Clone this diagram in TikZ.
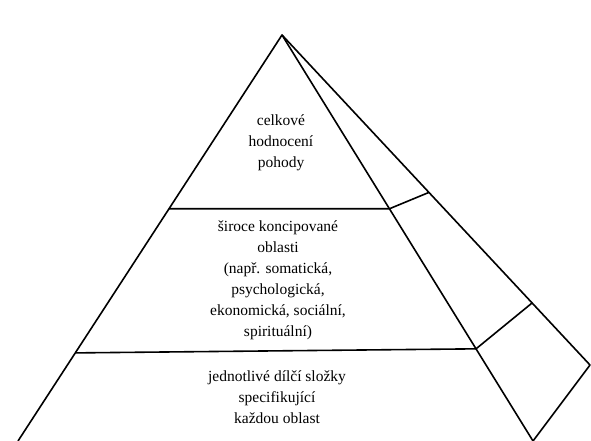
\documentclass[tikz,border=0pt]{standalone}
\usepackage{fontspec}
\setmainfont{Liberation Serif}
\usetikzlibrary{calc}
\tikzset{
  edge/.style = {draw=black, line width=1.6pt, line join=round},
  label_t/.style = {align=center, inner sep=0pt, text centered,
    font=\fontsize{15.5}{21}\selectfont}% text inside the pyramid
}

\begin{document}
\begin{tikzpicture}[x=1pt,y=-1pt]
\useasboundingbox (0,0) rectangle (591,441);
% corners of the pyramid
\coordinate (apex) at (282,35);
\coordinate (lfoot) at (18,441);
\coordinate (ffoot) at (533,441);
\coordinate (bcorner) at (590,365);
% band borders
\coordinate (u_l) at ($(apex)!0.428!(lfoot)$);
\coordinate (u_f) at ($(apex)!0.428!(ffoot)$);
\coordinate (u_b) at ($(apex)!0.477!(bcorner)$);
\coordinate (d_l) at ($(apex)!0.783!(lfoot)$);
\coordinate (d_f) at ($(apex)!0.773!(ffoot)$);
\coordinate (d_b) at ($(apex)!0.812!(bcorner)$);

\draw[edge] (lfoot) -- (apex) -- (ffoot);
\draw[edge] (apex) -- (bcorner) -- (ffoot);
\draw[edge] (u_l) -- (u_f) -- (u_b);
\draw[edge] (d_l) -- (d_f) -- (d_b);

\node [label_t] (top) at (281,143) {celkové\\hodnocení\\pohody};
\node [label_t] (mid) at (278,280) {široce koncipované\\oblasti\\(např. somatická,\\psychologická,\\ekonomická, sociální,\\spirituální)};
\node [label_t] (bot) at (277,397) {jednotlivé dílčí složky\\specifikující\\každou oblast};
\end{tikzpicture}
\end{document}
